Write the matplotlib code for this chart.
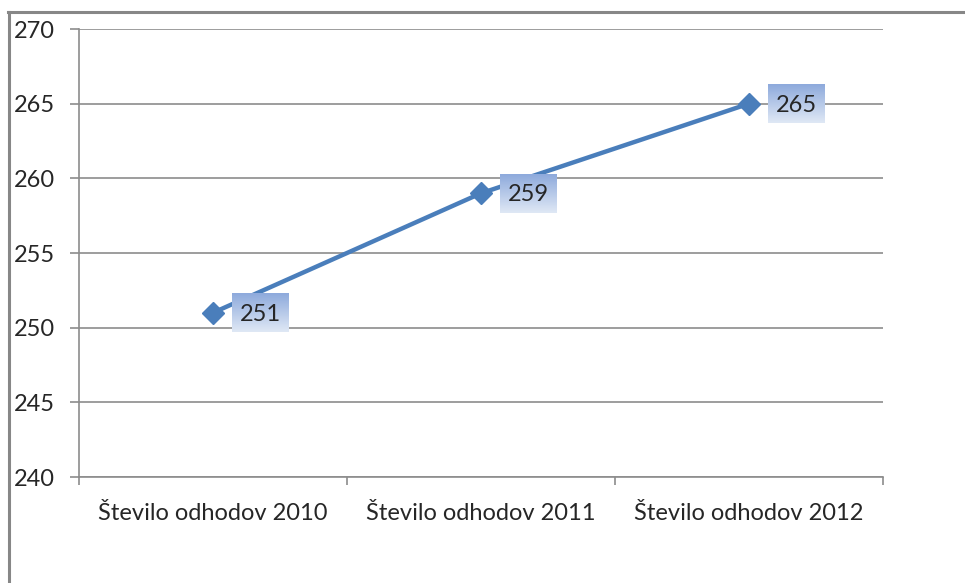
import numpy as np
import matplotlib
matplotlib.use("Agg")
import matplotlib.pyplot as plt
from matplotlib.lines import Line2D
from matplotlib.colors import LinearSegmentedColormap

plt.rcParams['font.family'] = ['Lato', 'DejaVu Sans']

kategorije = ["Število odhodov 2010", "Število odhodov 2011", "Število odhodov 2012"]
odhodi = [251, 259, 265]
y_ticks = [240, 245, 250, 255, 260, 265, 270]

siva = "#8c8c8c"
modra = "#4a7ebb"
besedilo = "#262626"

fig = plt.figure(figsize=(9.65, 5.83), dpi=100)
W, H = 965, 583
ax = fig.add_axes([79 / W, 1 - 477 / H, (883 - 79) / W, (477 - 29) / H])

x = np.arange(len(kategorije))
ax.plot(x, odhodi, color=modra, lw=3.2, marker="D", ms=11, mfc=modra, mec=modra, zorder=3)

ax.set_xlim(-0.5, len(kategorije) - 0.5)
ax.set_ylim(y_ticks[0], y_ticks[-1])

# mreža in osi
ax.set_yticks(y_ticks)
ax.grid(axis="y", color=siva, lw=1.2)
ax.set_axisbelow(True)
for s in ["top", "right"]:
    ax.spines[s].set_visible(False)
for s in ["left", "bottom"]:
    ax.spines[s].set_color(siva)
    ax.spines[s].set_linewidth(1.2)

ax.tick_params(axis="y", length=6.5, width=1.2, color=siva, pad=11,
               labelsize=17, labelcolor=besedilo)
ax.set_xticks(np.arange(-0.5, len(kategorije)))
ax.set_xticklabels([])
ax.tick_params(axis="x", which="major", length=6, width=1.2, color=siva)
ax.set_xticks(x, minor=True)
ax.set_xticklabels(kategorije, minor=True)
ax.tick_params(axis="x", which="minor", length=0, pad=19, labelsize=17, labelcolor=besedilo)

# oznake vrednosti v okvirjih s prelivom
preliv = LinearSegmentedColormap.from_list("preliv", ["#8eaadc", "#dfe8f5"])
grad = np.linspace(0, 1, 64).reshape(-1, 1)
sirina, visina = 0.21, 2.6
for xi, v in zip(x, odhodi):
    x0 = xi + 0.072
    ax.imshow(grad, cmap=preliv, aspect="auto", zorder=4,
              extent=(x0, x0 + sirina, v - visina / 2, v + visina / 2), origin="upper")
    ax.text(x0 + sirina / 2, v - 0.1, str(v), ha="center", va="center",
            fontsize=17, color=besedilo, zorder=5)

ax.set_xlim(-0.5, len(kategorije) - 0.5)
ax.set_ylim(y_ticks[0], y_ticks[-1])

# okvir grafikona
fig.add_artist(Line2D([8 / W, 1], [1 - 12 / H, 1 - 12 / H], color="#878787", lw=2.2))
fig.add_artist(Line2D([9 / W, 9 / W], [1 - 12 / H, 0], color="#878787", lw=2.2))

fig.savefig("out.png", dpi=100)
